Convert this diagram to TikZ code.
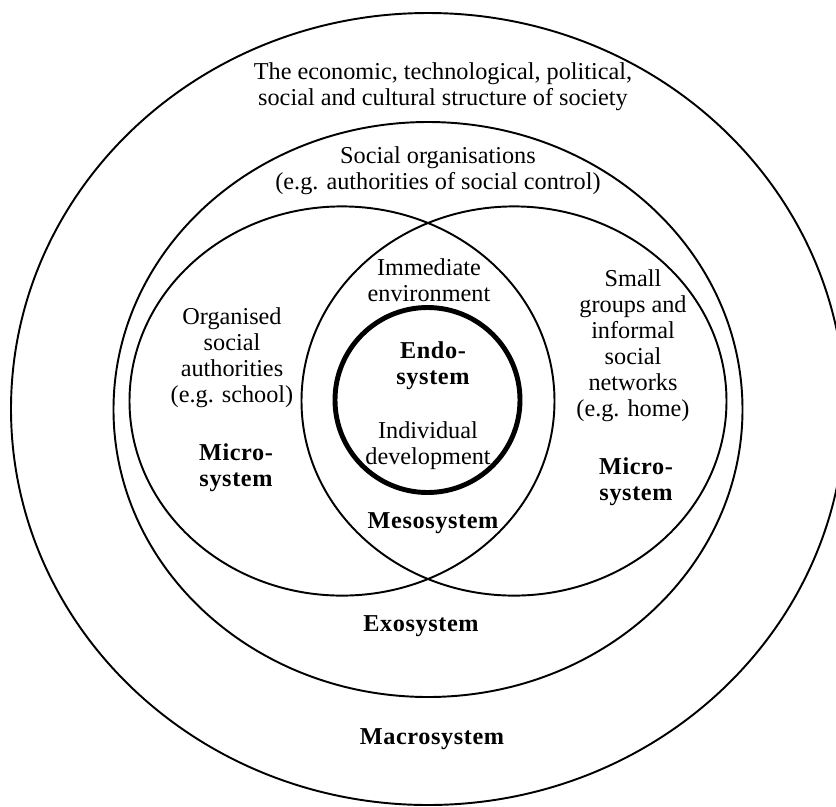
\documentclass[tikz,border=0pt]{standalone}
\usepackage{fontspec}
\setmainfont{Liberation Serif}
\newfontfamily\sysfont[LetterSpace=2.5]{Liberation Serif}

\begin{document}
\begin{tikzpicture}[x=0.02cm,y=-0.02cm,
  ring/.style={line width=1.1pt},
  txt/.style={align=center,inner sep=0pt,font=\fontsize{13.8}{14.8}\selectfont},
  sys/.style={align=center,inner sep=0pt,font=\sysfont\bfseries\fontsize{13.8}{14.8}\selectfont}]
\clip (0,0) rectangle (836,806);
% the nested systems
\draw[ring] (428,409) ellipse [x radius=417,y radius=396];
\draw[ring] (428,409.5) ellipse [x radius=314.5,y radius=287.5];
\foreach \cx in {342,514}{
  \draw[ring] (\cx,401) ellipse [x radius=212.5,y radius=194.6];
}
\draw[line width=2.8pt] (427.5,400) circle [radius=92.5];
% labels
\node[txt] (society) at (443,87) {The economic, technological, political,\\social and cultural structure of society};
\node[txt] (organisations) at (438,171) {Social organisations\\(e.g. authorities of social control)};
\node[txt] (immediate) at (429,280) {Immediate\\environment};
\node[sys] (endo) at (433,366) {Endo-\\system};
\node[txt] (individual) at (428,446) {Individual\\development};
\node[sys] (meso) at (433,523) {Mesosystem};
\node[txt] (school) at (232,358) {Organised\\social\\authorities\\(e.g. school)};
\node[sys] (microleft) at (236,468) {Micro-\\system};
\node[txt] (home) at (633,346) {Small\\groups and\\informal\\social\\networks\\(e.g. home)};
\node[sys] (microright) at (636,482) {Micro-\\system};
\node[sys] (exo) at (421,626) {Exosystem};
\node[sys] (macro) at (432,739) {Macrosystem};
\end{tikzpicture}
\end{document}
